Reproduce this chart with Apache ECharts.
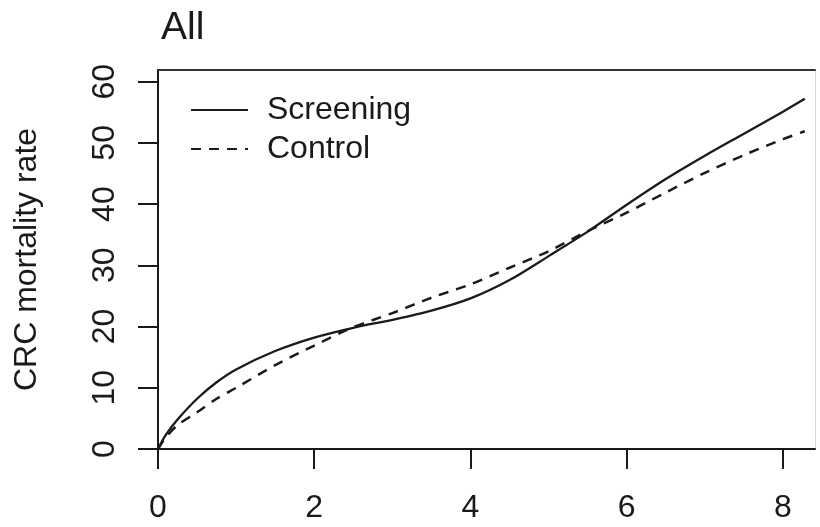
<!DOCTYPE html>
<html>
<head>
<meta charset="utf-8">
<script src="https://cdn.jsdelivr.net/npm/echarts@6/dist/echarts.min.js"></script>
<style>html,body{margin:0;padding:0;background:#fff}#c{width:820px;height:527px}</style>
</head>
<body>
<div id="c"></div>
<script>
const titleText = 'All';
const yAxisName = 'CRC mortality rate';
const seriesNames = ['Screening', 'Control'];
const xTicks = [0, 2, 4, 6, 8];
const yTicks = [0, 10, 20, 30, 40, 50, 60];
const years = [0, 0.1, 0.25, 0.5, 0.75, 1, 1.5, 2, 2.5, 3, 3.5, 4, 4.5, 5, 5.5, 6, 6.5, 7, 7.5, 8, 8.28];
const screening = [0, 2.3, 4.8, 8.2, 10.9, 13.0, 16.0, 18.2, 19.8, 21.1, 22.6, 24.6, 27.6, 31.5, 35.5, 39.9, 44.1, 47.9, 51.5, 55.1, 57.2];
const control = [0, 1.9, 3.9, 6.0, 8.2, 10.0, 13.7, 16.9, 19.9, 22.2, 24.7, 26.9, 29.6, 32.3, 35.6, 38.6, 41.9, 45.1, 48.0, 50.6, 51.9];

const font = '"Liberation Sans", Arial, sans-serif';
const ink = '#1a1a1a';
const pairs = (xs, ys) => xs.map((x, i) => [x, ys[i]]);

const chart = echarts.init(document.getElementById('c'), null, {renderer: 'canvas'});
chart.setOption({
  animation: false,
  backgroundColor: '#fff',
  title: {
    text: titleText, left: 156, top: 4,
    textStyle: {fontFamily: font, fontSize: 39, fontWeight: 'normal', color: ink}
  },
  legend: {
    orient: 'vertical', left: 185, top: 89,
    itemWidth: 57, itemHeight: 20, itemGap: 7,
    itemStyle: {opacity: 0},
    textStyle: {fontFamily: font, fontSize: 32, lineHeight: 30, color: ink, padding: [0, 0, 0, 14]},
    data: seriesNames
  },
  grid: {left: 158, top: 70, right: 5, bottom: 78, containLabel: false},
  xAxis: [{
    type: 'value', min: 0, max: 8.41, position: 'bottom',
    axisLine: {show: true, lineStyle: {color: ink, width: 2}},
    axisTick: {show: true, length: 20, lineStyle: {color: ink, width: 2}, customValues: xTicks},
    axisLabel: {fontFamily: font, fontSize: 32, color: ink, margin: 43, customValues: xTicks},
    splitLine: {show: false}
  }, {
    type: 'value', min: 0, max: 8.41, position: 'top',
    axisLine: {show: true, onZero: false, lineStyle: {color: '#333', width: 2}},
    axisTick: {show: false}, axisLabel: {show: false}, splitLine: {show: false}
  }],
  yAxis: [{
    type: 'value', min: 0, max: 61.9, position: 'left',
    name: yAxisName, nameLocation: 'middle', nameGap: 115,
    nameTextStyle: {fontFamily: font, fontSize: 32, color: ink},
    axisLine: {show: true, lineStyle: {color: ink, width: 2}},
    axisTick: {show: true, length: 20, lineStyle: {color: ink, width: 2}, customValues: yTicks},
    axisLabel: {fontFamily: font, fontSize: 32, color: ink, rotate: 90, margin: 37, customValues: yTicks},
    splitLine: {show: false}
  }, {
    type: 'value', min: 0, max: 61.9, position: 'right',
    axisLine: {show: true, onZero: false, lineStyle: {color: '#d8d8d8', width: 1}},
    axisTick: {show: false}, axisLabel: {show: false}, splitLine: {show: false}
  }],
  series: [{
    name: seriesNames[0], type: 'line', data: pairs(years, screening),
    smooth: 0.3, symbol: 'none', xAxisIndex: 0, yAxisIndex: 0,
    lineStyle: {color: ink, width: 2.3, type: 'solid'}, itemStyle: {color: ink}
  }, {
    name: seriesNames[1], type: 'line', data: pairs(years, control),
    smooth: 0.3, symbol: 'none', xAxisIndex: 0, yAxisIndex: 0,
    lineStyle: {color: ink, width: 2.5, type: [10, 8]}, itemStyle: {color: ink}
  }]
});
</script>
</body>
</html>
